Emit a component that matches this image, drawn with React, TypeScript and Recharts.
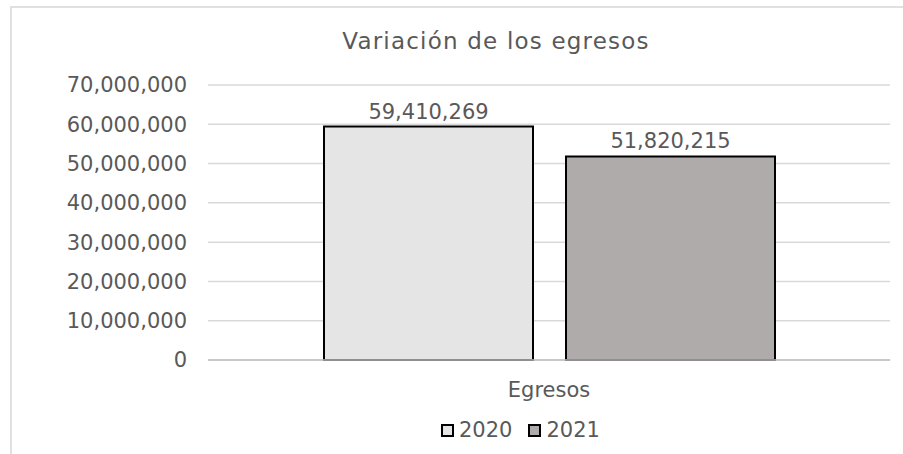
import { BarChart, Bar, XAxis, YAxis, CartesianGrid, Legend, LabelList } from 'recharts';

const categories = ['Egresos'];
const values2020 = [59410269];
const values2021 = [51820215];
const yTicks = [0, 10000000, 20000000, 30000000, 40000000, 50000000, 60000000, 70000000];

const data = categories.map((name, i) => ({
  name,
  y2020: values2020[i],
  y2021: values2021[i],
}));

const FONT = '"DejaVu Sans", Verdana, sans-serif';
const TEXT = '#595959';

const fmt = (v: number) => v.toLocaleString('en-US');

const seriesLegend = [
  { label: '2020', fill: '#e5e5e5' },
  { label: '2021', fill: '#afabab' },
];

const LegendContent = () => (
  <div style={{ display: 'flex', alignItems: 'center', paddingLeft: 441, height: 40, fontFamily: FONT, fontSize: 21, color: TEXT }}>
    {seriesLegend.map((s, i) => (
      <div key={s.label} style={{ display: 'flex', alignItems: 'center', marginLeft: i ? 16 : 0 }}>
        <span style={{ width: 9, height: 9, border: '2px solid #000', background: s.fill, marginRight: 5, display: 'inline-block' }} />
        <span>{s.label}</span>
      </div>
    ))}
  </div>
);

export default function App() {
  return (
    <div style={{ position: 'absolute', left: 0, top: 0, width: 903, height: 454, background: '#fff', overflow: 'hidden' }}>
      <div style={{ position: 'absolute', left: 10, top: 6, width: 1000, height: 500, borderLeft: '2px solid #e0e0e0', borderTop: '2px solid #e0e0e0' }} />
      <div style={{ position: 'absolute', left: 0, top: 30, width: 992, textAlign: 'center', fontFamily: FONT, fontSize: 23, lineHeight: '23px', letterSpacing: 1.2, color: TEXT }}>
        Variación de los egresos
      </div>
      <BarChart
        width={903}
        height={454}
        data={data}
        margin={{ top: 85, right: 13, left: 0, bottom: 4 }}
        barGap={33}
        style={{ position: 'absolute', left: 0, top: 0 }}
      >
        <CartesianGrid stroke="#d9d9d9" strokeWidth={1.5} vertical={false} />
        <XAxis
          dataKey="name"
          height={50}
          axisLine={{ stroke: '#bfbfbf', strokeWidth: 1.5 }}
          tickLine={false}
          tickSize={0}
          tickMargin={22}
          tick={{ fontFamily: FONT, fontSize: 21, fill: TEXT }}
        />
        <YAxis
          width={208}
          domain={[0, 70000000]}
          ticks={yTicks}
          axisLine={false}
          tickLine={false}
          tickSize={0}
          tickMargin={21}
          tickFormatter={fmt}
          tick={{ fontFamily: FONT, fontSize: 21, fill: TEXT }}
        />
        <Legend verticalAlign="bottom" height={40} content={LegendContent} />
        <Bar dataKey="y2020" name="2020" fill="#e5e5e5" stroke="#000" strokeWidth={2} barSize={209} isAnimationActive={false}>
          <LabelList dataKey="y2020" position="top" offset={8} formatter={(v: any) => fmt(Number(v))} style={{ fontFamily: FONT, fontSize: 21, fill: TEXT }} />
        </Bar>
        <Bar dataKey="y2021" name="2021" fill="#afabab" stroke="#000" strokeWidth={2} barSize={209} isAnimationActive={false}>
          <LabelList dataKey="y2021" position="top" offset={8} formatter={(v: any) => fmt(Number(v))} style={{ fontFamily: FONT, fontSize: 21, fill: TEXT }} />
        </Bar>
      </BarChart>
    </div>
  );
}
